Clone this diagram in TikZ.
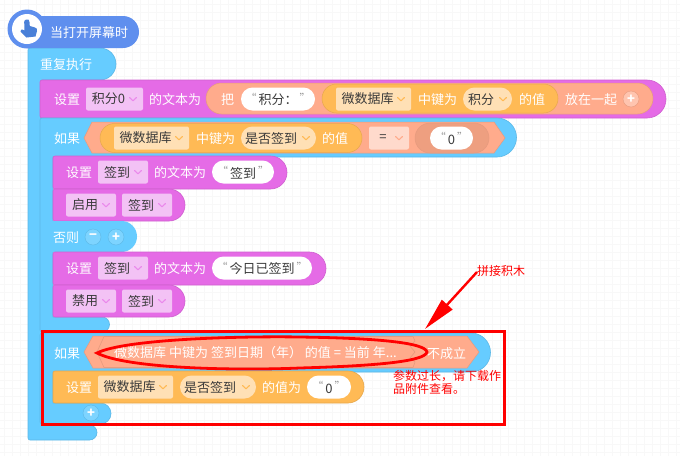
\documentclass[tikz,border=0pt]{standalone}
\usepackage{fontspec}
\setmainfont{Noto Sans CJK SC}
\usetikzlibrary{arrows.meta,shapes.misc}
\definecolor{hatblue}{HTML}{5F8FEE}
\definecolor{handblue}{HTML}{4A80D8}
\definecolor{ctl}{HTML}{66CCFF}
\definecolor{ctledge}{HTML}{5CB8E6}
\definecolor{pnk}{HTML}{E56BE6}
\definecolor{pnkedge}{HTML}{CF60CF}
\definecolor{pnklt}{HTML}{F3C2F5}
\definecolor{org}{HTML}{FFBA55}
\definecolor{orgedge}{HTML}{E6A84D}
\definecolor{orglt}{HTML}{FFE0B5}
\definecolor{sal}{HTML}{FFAB8C}
\definecolor{saledge}{HTML}{E69A7E}
\definecolor{sallt}{HTML}{FFDACC}
\definecolor{saldk}{HTML}{EE9F80}
\definecolor{txt}{HTML}{3A3A3A}
\definecolor{quot}{HTML}{999999}
\definecolor{gridc}{HTML}{F8F8F8}
\tikzset{
  wt/.style={text=white,font=\fontsize{13}{13}\selectfont,anchor=west,inner sep=0pt},
  dk/.style={text=txt,font=\fontsize{13}{13}\selectfont,anchor=center,inner sep=0pt},
  rednote/.style={text=red,font=\fontsize{12}{13}\selectfont,anchor=west,inner sep=0pt,align=left},
  roundbox/.style={rounded rectangle,inner sep=0pt,outer sep=0pt},
  squarebox/.style={rectangle,rounded corners=2pt,inner sep=0pt,outer sep=0pt},
  plusbtn/.style={circle,minimum size=16pt,inner sep=0pt,text=white,font=\bfseries\fontsize{13}{13}\selectfont},
  cap/.style={start angle=-90,end angle=90,radius=#1},
}
% block with flat left side and round right end: x1 y1 x2 y2 fill edge radius
\newcommand{\blk}[7]{%
  \draw[fill=#5,draw=#6,line width=.6pt] (#1+2,#2) -- (#3-#7,#2) arc[cap=#7] -- (#1+2,#4) arc[start angle=90,end angle=180,radius=2] -- (#1,#2+2) arc[start angle=180,end angle=270,radius=2] -- cycle;}
\newcommand{\dd}[6]{% name x1 x2 yc fill text (square dropdown)
  \node[squarebox,fill=#5,minimum width=#3*1pt-#2*1pt,minimum height=23pt] (#1) at ({(#2+#3)/2},#4) {};
  \node[dk] (#1t) at ({(#2+#3)/2-6},#4) {#6};}
\newcommand{\chev}[3]{% x yc colour
  \draw[#3,line width=1.1pt,line cap=round,line join=round] (#1-3.5,#2-1.5) -- (#1,#2+1.8) -- (#1+3.5,#2-1.5);}
\newcommand{\qq}[1]{{\color{quot}\raisebox{2.5pt}{\fontsize{11}{11}\selectfont “}}\hspace{2pt}#1\hspace{2pt}{\color{quot}\raisebox{2.5pt}{\fontsize{11}{11}\selectfont ”}}}
\begin{document}
\begin{tikzpicture}[x=1pt,y=-1pt]
\useasboundingbox (0,0) rectangle (680,456);
\fill[white] (0,0) rectangle (680,456);
\foreach \gx in {4,12,...,680} \draw[gridc,line width=.7pt] (\gx,0) -- (\gx,456);
\foreach \gy in {4,12,...,456} \draw[gridc,line width=.7pt] (0,\gy) -- (680,\gy);

% forever C block
\draw[fill=ctl,draw=ctledge,line width=.6pt] (30,48) -- (100,48) arc[cap=16] -- (42,80) -- (42,425) -- (89.5,425) arc[cap=7.5] -- (30,440) arc[start angle=90,end angle=180,radius=2] -- (28,50) arc[start angle=180,end angle=270,radius=2] -- cycle;
% hat block
\fill[hatblue] (27,29) circle[radius=19.5];
\fill[hatblue] (27,16) -- (123,16) arc[cap=16] -- (27,48) -- cycle;
\fill[white] (27,29) circle[radius=15];
\fill[handblue] (26.5,19.5) .. controls (28.5,19) and (29.5,20) .. (29.5,22) -- (29.8,26) -- (35,27.5) .. controls (37,28) and (37.5,29.5) .. (37,31) -- (35.5,36.5) -- (26.5,37.5) -- (20.5,31.5) .. controls (20,29.5) and (22,29) .. (24.5,30.5) -- (24.2,22) .. controls (24.2,20.5) and (25,19.7) .. (26.5,19.5) -- cycle;
\node[wt] (hatlabel) at (50,33) {当打开屏幕时};
\node[wt] (foreverlabel) at (40,65) {重复执行};

% set score text
\blk{40}{80}{666}{118}{pnk}{pnkedge}{19}
\node[wt] (s1a) at (54,99.5) {设置};
\dd{s1b}{86}{143}{99}{pnklt}{积分0}
\chev{133}{99}{pnk!80}
\node[wt] (s1c) at (149,99.5) {的文本为};
\node[roundbox,fill=sal,draw=saledge,line width=.5pt,minimum width=447pt,minimum height=31pt] (s1join) at (429.5,98.5) {};
\node[wt] (s1d) at (221,99.5) {把};
\node[roundbox,fill=white,minimum width=74pt,minimum height=23pt] (s1ebg) at (278,99) {};
\node[dk] (s1et) at (278,99.5) {\qq{积分：}};
\node[roundbox,fill=org,draw=orgedge,line width=.5pt,minimum width=236pt,minimum height=29pt] (s1g) at (440,98.5) {};
\dd{s1h}{336}{411}{99}{orglt}{微数据库}
\chev{401}{99}{org}
\node[wt] (s1i) at (418,99.5) {中键为};
\node[roundbox,fill=orglt,minimum width=49pt,minimum height=23pt] (s1j) at (487.5,99) {};
\node[dk] (s1jt) at (481,99.5) {积分};
\chev{503}{99}{org}
\node[wt] (s1k) at (519,99.5) {的值};
\node[wt] (s1l) at (565,99.5) {放在一起};
\node[plusbtn,fill=white!30!sal,draw=saledge,line width=.4pt] (s1p) at (631,99) {+};

% if 1
\draw[fill=ctl,draw=ctledge,line width=.6pt] (42,118) -- (497,118) arc[cap=19.5] -- (53,157) -- (53,317) -- (102,317) arc[cap=7.5] -- (42,332) arc[start angle=90,end angle=180,radius=2] -- (40,120) arc[start angle=180,end angle=270,radius=2] -- cycle;
\draw[fill=sal,draw=saledge,line width=.5pt] (84,138) -- (92,122) -- (494,122) -- (505,138) -- (494,153) -- (92,153) -- cycle;
\node[wt] (i1a) at (54,138.5) {如果};
\node[roundbox,fill=org,draw=orgedge,line width=.5pt,minimum width=262pt,minimum height=29pt] (i1b) at (231,138) {};
\dd{i1c}{114}{189}{138}{orglt}{微数据库}
\chev{179}{138}{org}
\node[wt] (i1d) at (196,138.5) {中键为};
\node[roundbox,fill=orglt,minimum width=75pt,minimum height=23pt] (i1e) at (278.5,138) {};
\node[dk] (i1et) at (271,138.5) {是否签到};
\chev{306}{138}{org}
\node[wt] (i1f) at (322,138.5) {的值};
\dd{i1g}{369}{409}{138}{sallt}{=}
\chev{399}{138}{sal}
\node[roundbox,fill=saldk,draw=saledge,line width=.5pt,minimum width=74pt,minimum height=30pt] (i1h) at (452,138) {};
\node[roundbox,fill=white,minimum width=43pt,minimum height=23pt] (i1i) at (451.5,138) {};
\node[dk] (i1it) at (451.5,138.5) {\qq{0}};

% then
\blk{53}{156}{287}{189}{pnk}{pnkedge}{16.5}
\node[wt] (s2a) at (66,172.5) {设置};
\dd{s2b}{98}{148}{172}{pnklt}{签到}
\chev{138}{172}{pnk!80}
\node[wt] (s2c) at (154,172.5) {的文本为};
\node[roundbox,fill=white,minimum width=62pt,minimum height=23pt] (s2d) at (243,172) {};
\node[dk] (s2dt) at (243,172.5) {\qq{签到}};

\blk{53}{189}{185}{221}{pnk}{pnkedge}{16}
\dd{s3a}{66}{116}{205}{pnklt}{启用}
\chev{106}{205}{pnk!80}
\dd{s3b}{122}{172}{205}{pnklt}{签到}
\chev{162}{205}{pnk!80}

% else
\draw[fill=ctl,draw=none] (41,221) -- (121.5,221) arc[cap=15.5] -- (41,252) -- cycle;
\node[wt] (e1) at (53,237.5) {否则};
\node[plusbtn,fill=ctl!85!white,draw=ctledge,line width=.4pt] (em) at (93,237) {−};
\node[plusbtn,fill=ctl!85!white,draw=ctledge,line width=.4pt] (ep) at (116,237) {+};

\blk{53}{252}{326}{285}{pnk}{pnkedge}{16.5}
\node[wt] (s4a) at (66,268.5) {设置};
\dd{s4b}{98}{148}{268}{pnklt}{签到}
\chev{138}{268}{pnk!80}
\node[wt] (s4c) at (154,268.5) {的文本为};
\node[roundbox,fill=white,minimum width=100pt,minimum height=23pt] (s4d) at (262,268) {};
\node[dk] (s4dt) at (262,268.5) {\qq{今日已签到}};

\blk{53}{285}{185}{317}{pnk}{pnkedge}{16}
\dd{s5a}{66}{116}{301}{pnklt}{禁用}
\chev{106}{301}{pnk!80}
\dd{s5b}{122}{172}{301}{pnklt}{签到}
\chev{162}{301}{pnk!80}

% if 2
\draw[fill=ctl,draw=ctledge,line width=.6pt] (42,333) -- (471,333) arc[cap=19.5] -- (53,372) -- (53,403) -- (100.5,403) arc[cap=10.5] -- (42,424) arc[start angle=90,end angle=180,radius=2] -- (40,335) arc[start angle=180,end angle=270,radius=2] -- cycle;
\draw[fill=sal,draw=saledge,line width=.5pt] (84,352) -- (93,336) -- (467,336) -- (479,352) -- (467,368) -- (93,368) -- cycle;
\draw[saledge,line width=.6pt] (413,336.5) -- (104,336.5) -- (97,352) -- (104,367.5) -- (413,367.5) -- (415,362) -- (410,358) -- (415,352) -- (410,346) -- (415,341) -- cycle;
\node[wt] (i2a) at (54,353.5) {如果};
\node[wt] (i2b) at (114,352.5) {微数据库 中键为 签到日期（年） 的值 = 当前 年...};
\node[wt] (i2c) at (427,353.5) {不成立};

\blk{53}{371}{364}{403}{org}{orgedge}{16}
\node[wt] (s6a) at (66,387.5) {设置};
\dd{s6b}{98}{173}{387}{orglt}{微数据库}
\chev{163}{387}{org}
\node[roundbox,fill=orglt,minimum width=76pt,minimum height=23pt] (s6c) at (218,387) {};
\node[dk] (s6ct) at (210,387.5) {是否签到};
\chev{246}{387}{org}
\node[wt] (s6d) at (262,387.5) {的值为};
\node[roundbox,fill=white,minimum width=44pt,minimum height=23pt] (s6e) at (329,387) {};
\node[dk] (s6et) at (329,387.5) {\qq{0}};
\node[plusbtn,fill=ctl!85!white,draw=ctledge,line width=.4pt] (i2p) at (91,413) {+};

% red annotations
\node[draw=red,line width=3pt,minimum width=462pt,minimum height=93pt,inner sep=0pt] (redbox) at (273.5,377.5) {};
\draw[red,line width=2.8pt] (97,353) .. controls (125,339) and (240,336) .. (300,337) .. controls (370,338) and (425,342) .. (427,352) .. controls (425,362) and (370,366) .. (300,368) .. controls (230,371) and (125,368) .. (97,353) -- cycle;
\node[rednote] (tiplabel) at (477,271) {拼接积木};
\node[rednote] (toolong) at (393,382.5) {参数过长，请下载作\\品附件查看。};
\coordinate (arrowstart) at (477,272);
\coordinate (arrowend) at (425,329);
\draw[red,line width=2.4pt,-{Triangle[length=33pt,width=14pt]}] (arrowstart) -- (arrowend);
\end{tikzpicture}
\end{document}
